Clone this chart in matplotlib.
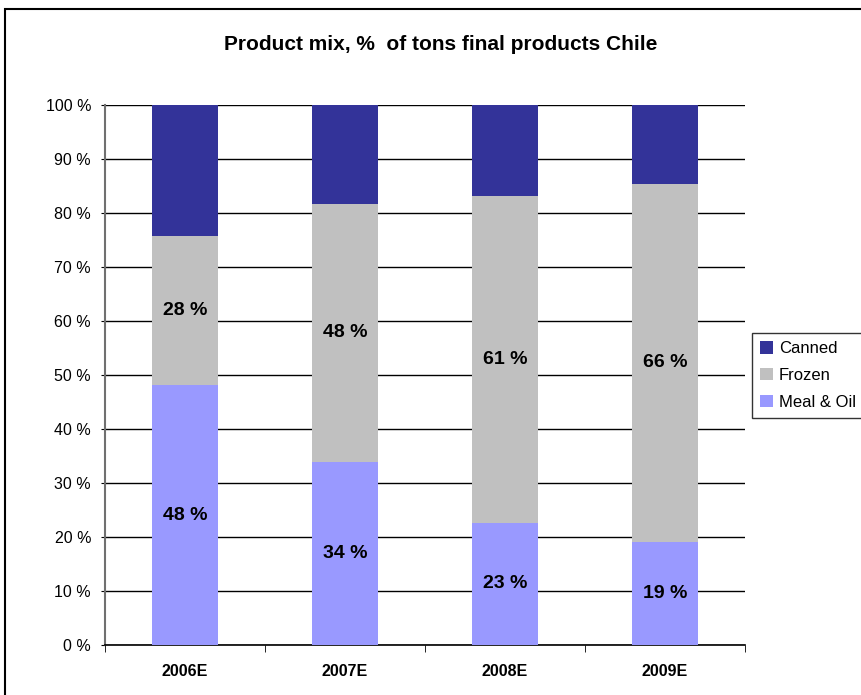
import matplotlib
matplotlib.use('Agg')
import matplotlib.pyplot as plt
from matplotlib.patches import Rectangle
import numpy as np

plt.rcParams['font.family'] = ['Liberation Sans', 'DejaVu Sans']

# 데이터
years = ['2006E', '2007E', '2008E', '2009E']
meal_oil = [48.1, 33.9, 22.6, 19.1]
frozen = [27.7, 47.8, 60.6, 66.3]
canned = [100 - m - f for m, f in zip(meal_oil, frozen)]

fig = plt.figure(figsize=(8.61, 6.95), dpi=100)
ax = fig.add_axes([105/861, 1 - 645/695, 640/861, 540/695])

x = np.arange(len(years))
w = 0.41
b1 = ax.bar(x, meal_oil, w, color='#9999FF', label='Meal & Oil', zorder=3)
b2 = ax.bar(x, frozen, w, bottom=meal_oil, color='#C0C0C0', label='Frozen', zorder=3)
b3 = ax.bar(x, canned, w, bottom=np.add(meal_oil, frozen), color='#333399', label='Canned', zorder=3)

# 막대 안 라벨
for i in range(len(years)):
    ax.text(x[i], meal_oil[i] / 2, f'{round(meal_oil[i])} %', ha='center', va='center',
            fontsize=14, fontweight='bold', zorder=4)
    ax.text(x[i], meal_oil[i] + frozen[i] / 2, f'{round(frozen[i])} %', ha='center', va='center',
            fontsize=14, fontweight='bold', zorder=4)

ax.set_xlim(-0.5, len(years) - 0.5)
ax.set_ylim(0, 100)
ax.set_yticks(np.arange(0, 101, 10))
ax.set_yticklabels([f'{v} %' for v in range(0, 101, 10)], fontsize=11.5)
ax.set_xticks(x)
ax.set_xticklabels(years, fontsize=11.5, fontweight='bold')
ax.set_xticks(np.arange(-0.5, len(years), 1), minor=True)
ax.tick_params(axis='x', which='major', length=0, pad=14)
ax.tick_params(axis='x', which='minor', length=5, direction='out')
ax.tick_params(axis='y', length=3, direction='out', pad=7)
ax.yaxis.grid(True, color='black', linewidth=1, zorder=0)
for s in ['top', 'right']:
    ax.spines[s].set_visible(False)
ax.spines['left'].set_color('#707070')
ax.spines['left'].set_linewidth(1.5)
ax.spines['bottom'].set_linewidth(1.2)

fig.text(441/861, 1 - 45/695, 'Product mix, %  of tons final products Chile',
         ha='center', va='center', fontsize=15, fontweight='bold')

# 범례 (오른쪽 끝에서 잘림)
handles = [b3, b2, b1]
leg = fig.legend(handles, ['Canned', 'Frozen', 'Meal & Oil'], loc='upper left',
                 bbox_to_anchor=(752/861, 1 - 333/695), fontsize=12, frameon=True,
                 fancybox=False, edgecolor='black', handlelength=0.75, handleheight=0.75,
                 handletextpad=0.35, borderpad=0.5, labelspacing=0.7, borderaxespad=0)
leg.get_frame().set_linewidth(1)

# 외곽 테두리
fig.patches.append(Rectangle((5/861, -0.05), 1.2, 1 - 9/695 + 0.05, transform=fig.transFigure,
                             fill=False, edgecolor='black', linewidth=1.5))

plt.savefig('out.png', dpi=100)
